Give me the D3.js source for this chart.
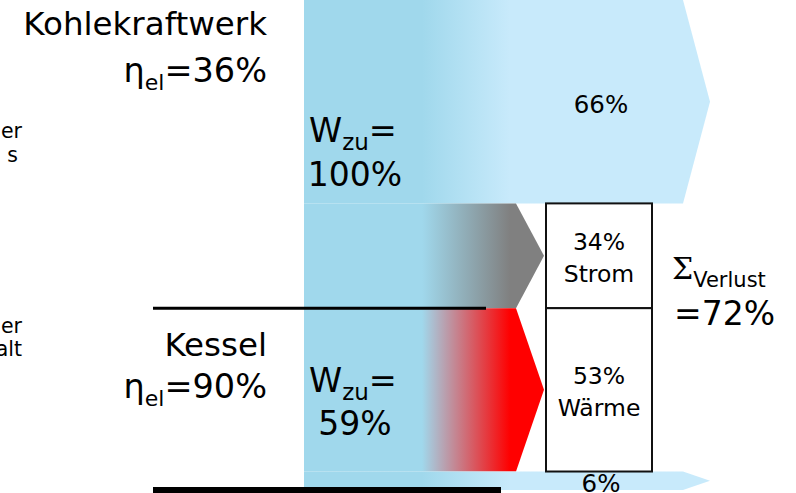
<!DOCTYPE html>
<html>
<head>
<meta charset="utf-8">
<script src="https://cdn.jsdelivr.net/npm/d3@7/dist/d3.min.js"></script>
<style>
  html, body { margin: 0; padding: 0; background: #fff; }
  svg { display: block; font-family: "DejaVu Sans", Verdana, sans-serif; }
</style>
</head>
<body>
<svg id="chart" width="796" height="493"></svg>
<script>
// Energy flows of a coal power plant versus a boiler (percent of coal-plant input)
const plantNames = ["Kohlekraftwerk", "Kessel"];
const plantEfficiency = [36, 90];
const plantInput = [100, 59];

const flowNames = ["Verlust", "Strom", "Wärme", "Verlust"];
const flowValues = [66, 34, 53, 6];

// Ends of side notes that run off the left edge
const sideNotes = [["er", "s"], ["er", "alt"]];

const colors = {
  input: "#a0d8ec",
  Verlust: "#c8eafb",
  Strom: "#808080",
  "Wärme": "#ff0000"
};

const svg = d3.select("#chart");

const total = d3.sum(plantInput);
const y = d3.scaleLinear().domain([0, total]).range([0, 490]);

// horizontal stations of the flow diagram
const xPos = {
  src: 304, fadeStart: 422, fadeEnd: 510, useShoulder: 516, useTip: 544,
  boxL: 546, boxR: 652, lossShoulder: 683, lossTip: 710
};
const X = k => xPos[k];

// stacked flow bands
let acc = 0;
const flows = flowValues.map((v, i) => {
  const f = { name: flowNames[i], value: v, y0: acc, y1: acc + v, loss: flowNames[i] === "Verlust", i };
  acc += v;
  return f;
});

const defs = svg.append("defs");
flows.forEach(f => {
  const g = defs.append("linearGradient")
    .attr("id", "grad" + f.i)
    .attr("gradientUnits", "userSpaceOnUse")
    .attr("x1", X("fadeStart")).attr("x2", X("fadeEnd"))
    .attr("y1", 0).attr("y2", 0);
  g.append("stop").attr("offset", 0).attr("stop-color", colors.input);
  g.append("stop").attr("offset", 1).attr("stop-color", colors[f.name]);
});

const line = d3.line();
svg.append("g").selectAll("path")
  .data(flows)
  .join("path")
  .attr("d", f => {
    const top = y(f.y0), bot = y(f.y1), mid = (top + bot) / 2;
    const sh = f.loss ? X("lossShoulder") : X("useShoulder");
    const tip = f.loss ? X("lossTip") : X("useTip");
    return line([[X("src"), top], [sh, top], [tip, mid], [sh, bot], [X("src"), bot]]) + "Z";
  })
  .attr("fill", f => `url(#grad${f.i})`);

// boxes for useful output
const useful = flows.filter(f => !f.loss);
svg.append("g").selectAll("rect")
  .data(useful)
  .join("rect")
  .attr("x", X("boxL"))
  .attr("y", f => y(f.y0))
  .attr("width", X("boxR") - X("boxL"))
  .attr("height", f => y(f.y1) - y(f.y0))
  .attr("fill", "#fff")
  .attr("stroke", "#111")
  .attr("stroke-width", 2);

svg.append("g").selectAll("text")
  .data(useful)
  .join("text")
  .attr("text-anchor", "middle")
  .attr("font-size", 23.5)
  .attr("fill", "#000")
  .each(function (f) {
    const mid = (y(f.y0) + y(f.y1)) / 2;
    const cx = (X("boxL") + X("boxR")) / 2;
    const t = d3.select(this);
    t.append("tspan").attr("x", cx).attr("y", mid - 6).text(f.value + "%");
    t.append("tspan").attr("x", cx).attr("y", mid + 26).text(f.name);
  });

// loss labels
svg.append("g").selectAll("text")
  .data(flows.filter(f => f.loss))
  .join("text")
  .attr("text-anchor", "middle")
  .attr("font-size", 24.5)
  .attr("fill", "#000")
  .attr("x", 601)
  .attr("y", f => (y(f.y0) + y(f.y1)) / 2 + 11)
  .text(f => f.value + "%");

// separator lines between the two plants
svg.append("line")
  .attr("x1", 153).attr("x2", 486)
  .attr("y1", y(plantInput[0])).attr("y2", y(plantInput[0]))
  .attr("stroke", "#000").attr("stroke-width", 3);
svg.append("line")
  .attr("x1", 153).attr("x2", 501)
  .attr("y1", 490).attr("y2", 490)
  .attr("stroke", "#000").attr("stroke-width", 6);

// plant names and efficiencies
const plantNameY = [35, 356];
const plantEtaY = [82, 398];
plantNames.forEach((name, i) => {
  svg.append("text")
    .attr("x", 267).attr("y", plantNameY[i])
    .attr("text-anchor", "end").attr("font-size", 32.5).attr("fill", "#000")
    .text(name);
  const t = svg.append("text")
    .attr("x", 267).attr("y", plantEtaY[i])
    .attr("text-anchor", "end").attr("font-size", 33.5).attr("fill", "#000");
  t.append("tspan").text("η");
  t.append("tspan").attr("font-size", 22).attr("dy", 8).text("el");
  t.append("tspan").attr("dy", -8).text("=" + plantEfficiency[i] + "%");
});

// supplied energy labels
const inputY = [[142, 186], [392, 435]];
plantInput.forEach((v, i) => {
  const t = svg.append("text")
    .attr("x", 353).attr("y", inputY[i][0])
    .attr("text-anchor", "middle").attr("font-size", 33.5).attr("fill", "#000");
  t.append("tspan").text("W");
  t.append("tspan").attr("font-size", 23).attr("dy", 8).text("zu");
  t.append("tspan").attr("dy", -8).text("=");
  svg.append("text")
    .attr("x", 355).attr("y", inputY[i][1])
    .attr("text-anchor", "middle").attr("font-size", 33).attr("fill", "#000")
    .text(v + "%");
});

// total losses
const totalLoss = d3.sum(flows.filter(f => f.loss), f => f.value);
const sig = svg.append("text").attr("x", 672).attr("y", 279).attr("fill", "#000");
sig.append("tspan").attr("font-family", "'DejaVu Serif', 'Liberation Serif', serif").attr("font-size", 30).text("Σ");
sig.append("tspan").attr("font-size", 21).attr("dy", 8).text("Verlust");
svg.append("text").attr("x", 674).attr("y", 325).attr("font-size", 33).attr("fill", "#000")
  .text("=" + totalLoss + "%");

// side note ends
const noteY = [[138, 162], [333, 356]];
const noteX = [[22, 18], [22, 22]];
sideNotes.forEach((lines, i) => {
  lines.forEach((s, j) => {
    svg.append("text")
      .attr("x", noteX[i][j]).attr("y", noteY[i][j])
      .attr("text-anchor", "end").attr("font-size", 20.5).attr("fill", "#000")
      .text(s);
  });
});
</script>
</body>
</html>
